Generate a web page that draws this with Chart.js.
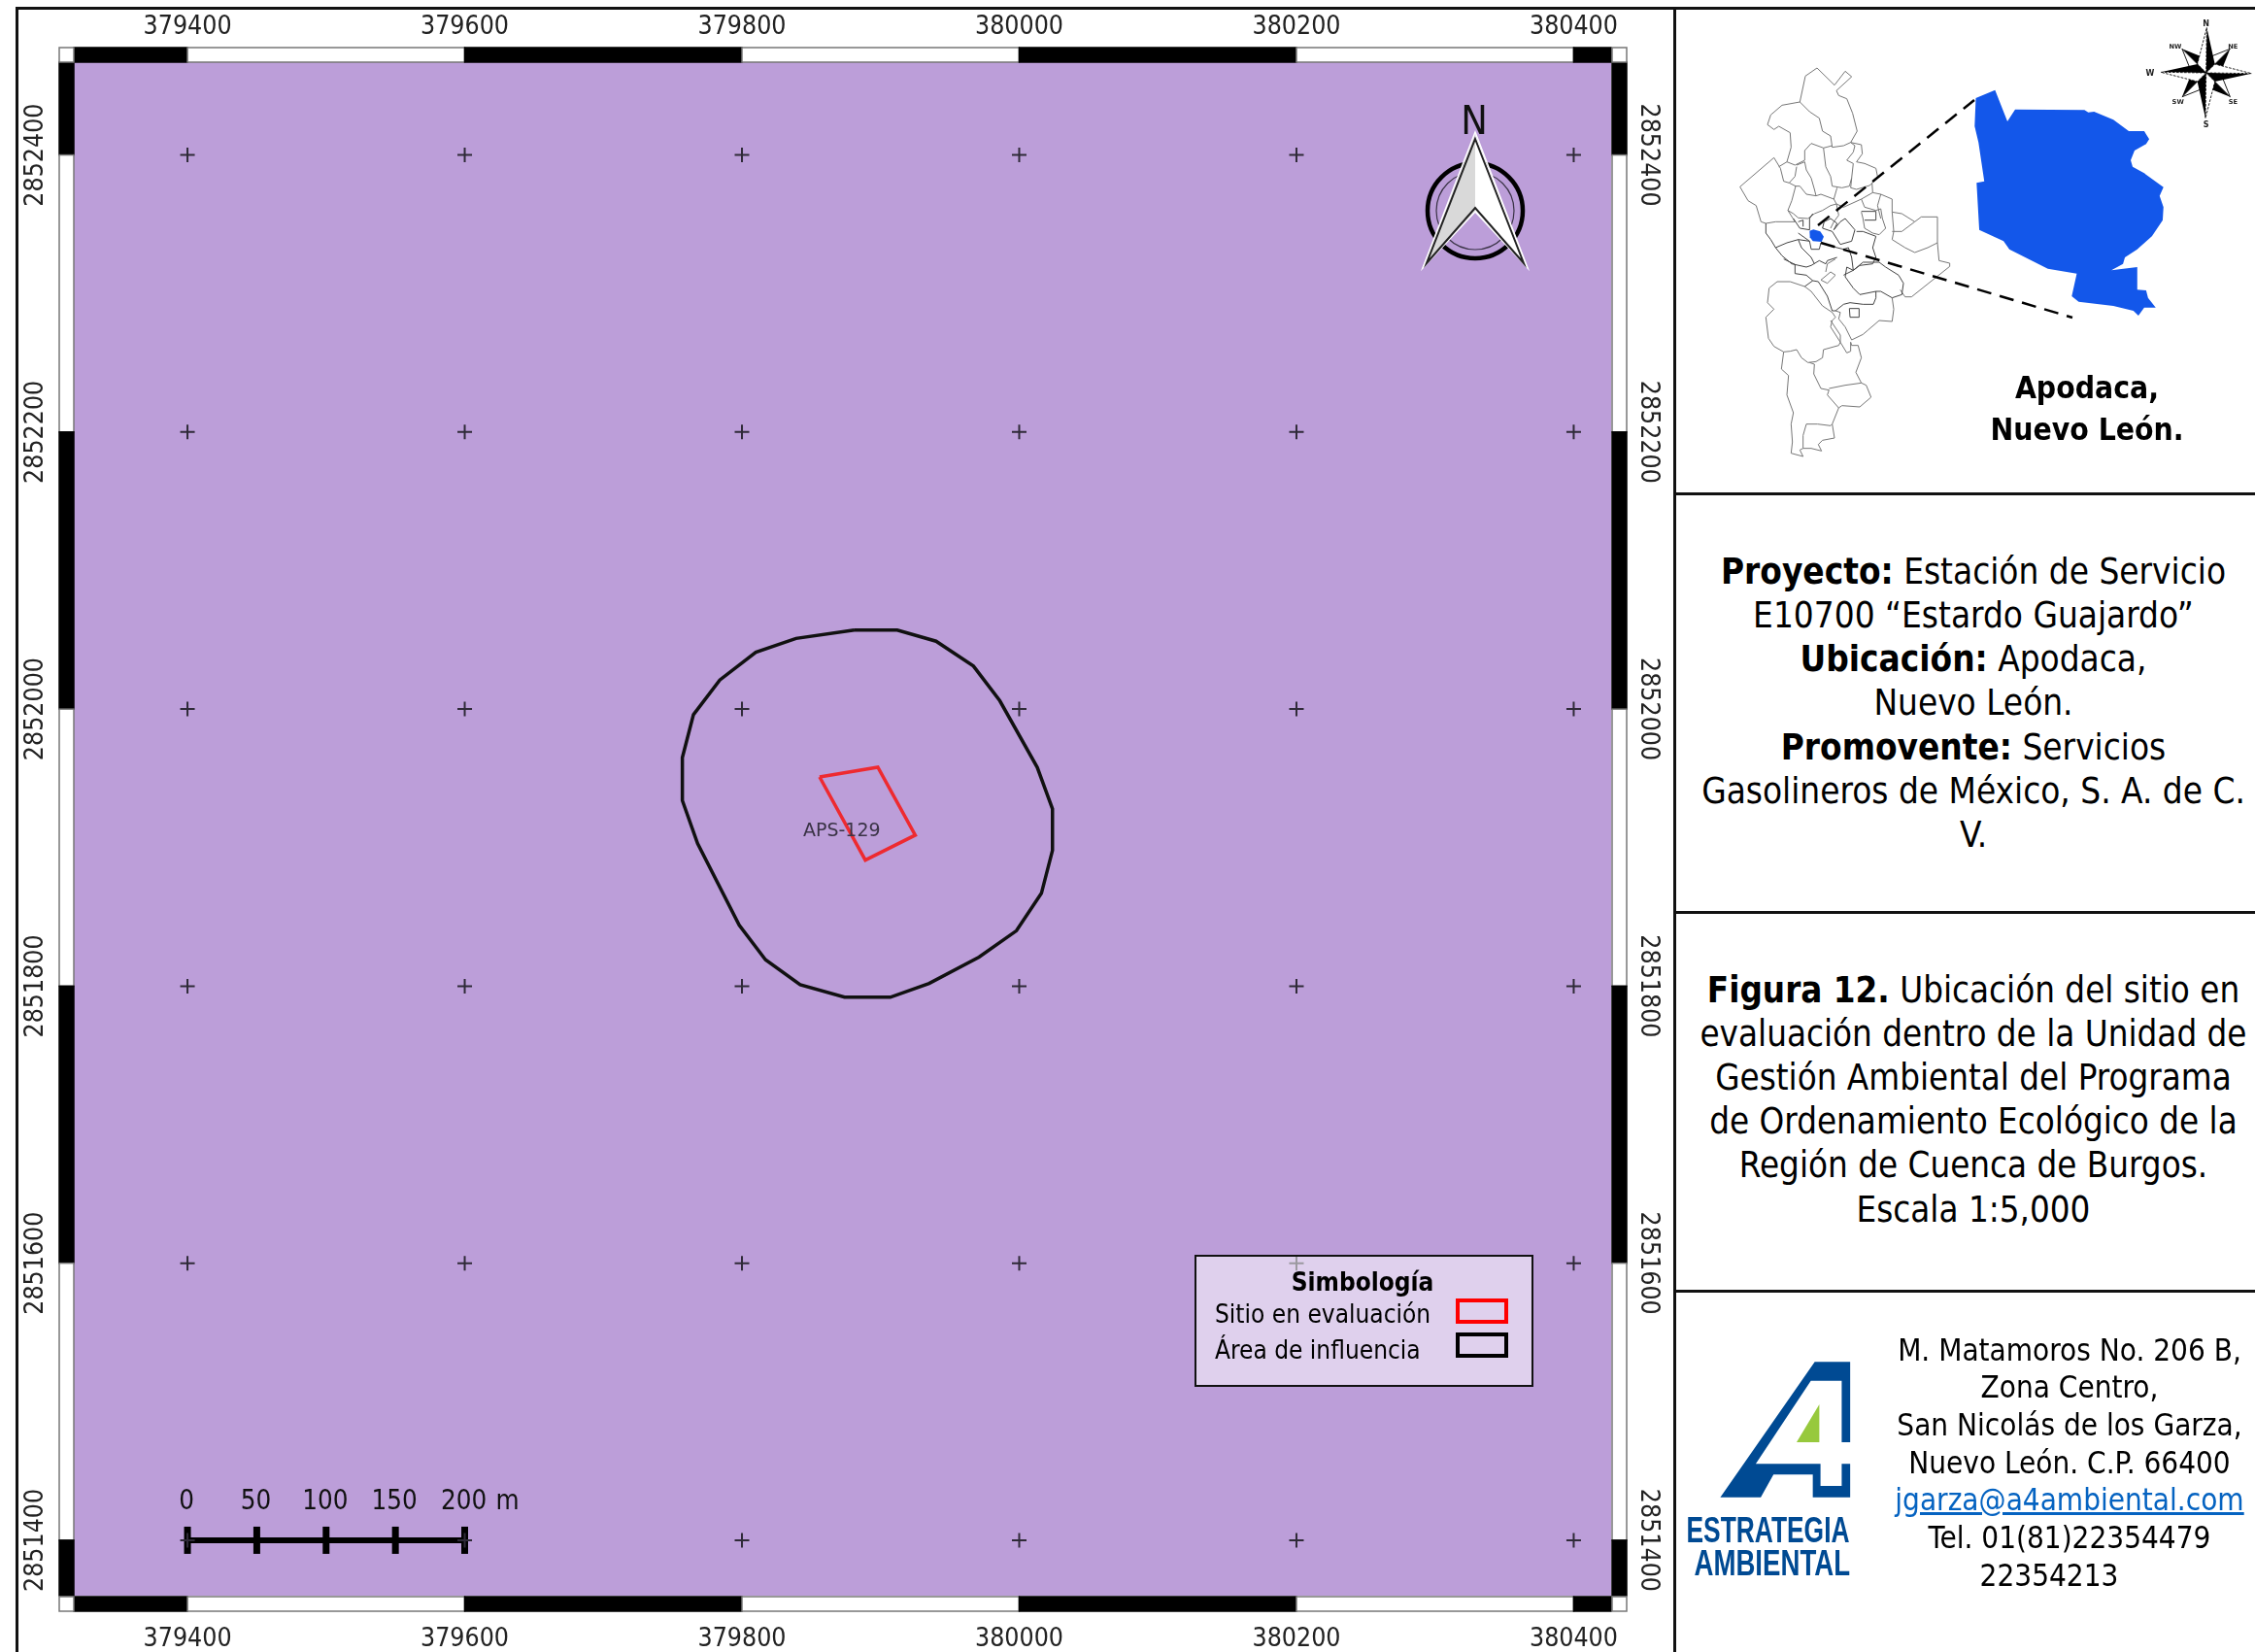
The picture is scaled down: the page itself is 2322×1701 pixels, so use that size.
<!DOCTYPE html>
<html>
<head>
<meta charset="utf-8">
<script src="https://cdn.jsdelivr.net/npm/chart.js@4"></script>
<style>
html,body{margin:0;padding:0;background:#fff;}
body{position:relative;width:2322px;height:1701px;overflow:hidden;font-family:"DejaVu Sans Condensed","DejaVu Sans",sans-serif;color:#000;}
#myChart{position:absolute;left:0;top:0;}
.rule{position:absolute;background:#111;}
.txt{position:absolute;text-align:center;white-space:nowrap;}
svg{position:absolute;overflow:visible;}
a{color:#0563c1;}
</style>
</head>
<body>
<canvas id="myChart" width="1724" height="1701"></canvas>

<div class="rule" style="left:16px;top:7px;width:2306px;height:3px"></div>
<div class="rule" style="left:16px;top:7px;width:3px;height:1694px"></div>
<div class="rule" style="left:1723px;top:7px;width:3px;height:1694px"></div>
<div class="rule" style="left:1723px;top:507px;width:599px;height:3px"></div>
<div class="rule" style="left:1723px;top:938px;width:599px;height:3px"></div>
<div class="rule" style="left:1723px;top:1328px;width:599px;height:3px"></div>

<!-- mapa de Nuevo Leon -->
<svg style="left:1785px;top:65px" width="240" height="420" viewBox="0 0 720 1260" fill="none" stroke="#777" stroke-width="3">
<path d="M205,120 L222,40 L258,15 L312,68 L345,25 L365,42 L318,85 L325,100 L350,110 L368,155 L382,210 L362,245 L340,255 L305,260 L300,225 L275,210 L265,170 L235,150 Z"/>
<path d="M205,120 L150,130 L115,160 L105,190 L125,205 L140,195 L175,215 L178,260 L165,305 L190,315 L220,300 L220,270 L240,248 L278,262 L305,255"/>
<path d="M20,382 L125,292 L145,325 L155,365 L172,370 L192,380 L180,425 L168,455 L190,490 L130,490 L100,495 L85,490 L70,440 L45,425 Z"/>
<path d="M140,320 L165,305 M195,320 L190,350 L172,370"/>
<path d="M195,315 L220,305 L225,330 L240,355 L250,390 L255,410 L225,405 L205,380 L190,380"/>
<path d="M278,262 L285,320 L300,350 L305,380 L335,385 L358,380 L365,355 L370,310 L350,300 L370,275 L375,255 L362,245 L395,252 L398,280 L380,305 L405,310 L440,325 L445,350 L428,370 L430,400 L455,405 L490,420 L490,460 L495,520 L490,545 L530,570 L560,585 L600,570 L630,555"/>
<path d="M365,355 L362,385 L380,390 L420,378 L430,370 M255,410 L270,405 L310,420 L320,385 M310,420 L318,435 L340,445 L395,420 L430,400"/>
<path d="M168,455 L185,465 L200,478 L230,480 L250,465 L275,455 L300,440 L318,435 L325,470 L310,490 L300,510"/>
<path d="M395,420 L405,445 L440,455 L455,450 L460,480 L470,510 L450,530 L430,525 L405,510 L400,480 L395,460 M455,405 L445,440 L455,480"/>
<path d="M395,458 L440,458 L440,485 L405,485" stroke="#444"/>
<path d="M490,460 L520,465 L560,490 L580,475 L630,475 L630,555 L635,610 L668,618 L668,628 L550,722 L530,722 L515,700 M490,520 L520,520 L560,490"/>
<path d="M185,480 L205,510 L235,515 L235,480 L245,465 M200,490 L215,485 L215,505" stroke="#444"/>
<path d="M275,510 L280,490 L300,480 L320,495 L310,515 L330,490 L345,480 L375,515 L365,550 L330,560 L305,520 L275,510" stroke="#444"/>
<path d="M100,495 L100,525 L115,545 L130,570 L165,555 L200,545 L235,550 M130,570 L150,595 L180,620 L225,630 L240,625 L265,610 L285,620 L290,610 L320,600" stroke="#444"/>
<path d="M200,525 L235,550 L240,575 L265,575 L270,555 L300,565 L340,575 L355,570 L365,600 L370,640 L340,655 M380,520 L400,520 L440,535 L430,570 L440,600 L430,620 L390,625 L370,640 M200,545 L210,570 L240,600 L250,620" stroke="#444"/>
<g transform="translate(0,600)">
<path d="M220,90 L175,75 L135,75 L110,95 L105,140 L125,160 L100,185 L108,250 L125,275 L155,292 L175,290 L195,285 L210,310 L230,325 L255,322 L275,310 L278,285 L325,272 L330,262 L300,215 L305,195 L315,185 L305,170 L275,150 L240,105 Z"/>
<path d="M155,5 L190,22 L190,50 L225,55 L245,72 L220,90 M245,72 L262,75 L290,120 L305,165 L315,165 L340,145 L360,140 L400,145 L432,145 L440,125 L440,105 L455,105 L490,125 L520,115 L525,80 L510,55 L470,30 L450,15 L400,15 L370,40 L350,30 L345,60 L370,95 L390,115 L440,105" stroke="#444"/>
<path d="M270,70 L300,45 L315,55 L290,80 Z M285,45 L290,20 L315,5"/>
<path d="M358,158 L388,158 L388,185 L360,185 Z" stroke="#444"/>
<path d="M490,125 L495,160 L490,198 L450,195 L415,225 L400,238 L365,255 L345,215 L325,190 L330,170 L315,165 M300,195 L330,240 L330,262 L350,295 L362,290 L362,262 L365,272 L385,272 L395,310 L378,355 L395,388"/>
<path d="M155,292 L148,345 L170,365 L165,425 L185,480 L178,515 L182,570 L178,605 L215,615 L205,595 L215,590 L215,550 L225,515 L260,515 L300,520 L305,515 L325,465 L290,425 L295,410 L270,405 L248,360 L250,330 L235,325"/>
<path d="M295,405 L345,395 L395,388 L410,395 L425,432 L390,462 L335,458 L325,465 M305,515 L312,558 L275,565 L262,578 L272,598 L240,590 L215,590"/>
</g>
<path d="M235,518 L247,514 L268,520 L279,536 L272,552 L245,550 L236,538 Z" fill="#1357ea" stroke="none"/>
</svg>

<svg style="left:1700px;top:0" width="622" height="520" viewBox="0 0 622 520">
<line x1="172" y1="232" x2="333" y2="103" stroke="#000" stroke-width="2.5" stroke-dasharray="15 9"/>
<line x1="175" y1="250" x2="434" y2="327" stroke="#000" stroke-width="2.5" stroke-dasharray="15 9"/>
<path transform="scale(.3968,.3333)" fill="#1357ea" d="M843,303 L893,278 L925,375 L945,338 L1125,340 L1135,347 L1150,345 L1200,370 L1240,405 L1280,405 L1293,430 L1285,445 L1255,465 L1245,495 L1250,515 L1280,535 L1330,578 L1320,605 L1330,640 L1328,680 L1300,730 L1262,770 L1230,795 L1225,815 L1195,835 L1262,825 L1262,895 L1285,897 L1290,920 L1310,950 L1280,950 L1265,975 L1252,960 L1200,945 L1110,932 L1092,915 L1105,845 L1030,830 L980,800 L930,770 L915,745 L852,710 L845,565 L865,560 L850,440 L840,390 Z"/>
</svg>

<!-- rosa de los vientos -->
<svg style="left:2200px;top:10px" width="122" height="130" viewBox="0 0 366 390">
<defs>
<g id="armLong"><path d="M0,0 L2,-140 L27,-27 Z" fill="#000"/><path d="M0,0 L2,-140 L-27,-27 Z" fill="#fff" stroke="#000" stroke-width="2.5" stroke-dasharray="8 4"/></g>
<g id="armShort"><path d="M0,0 L0,-105 L30,-35 Z" fill="#000"/><path d="M0,0 L0,-105 L-30,-35 Z" fill="#fff" stroke="#000" stroke-width="2.5"/></g>
</defs>
<g transform="translate(215,195)">
<use href="#armShort" transform="rotate(45)"/><use href="#armShort" transform="rotate(135)"/><use href="#armShort" transform="rotate(225)"/><use href="#armShort" transform="rotate(315)"/>
<use href="#armLong"/><use href="#armLong" transform="rotate(90)"/><use href="#armLong" transform="rotate(180)"/><use href="#armLong" transform="rotate(270)"/>
</g>
<g font-size="24" font-weight="bold" text-anchor="middle" fill="#222" font-family="DejaVu Sans">
<text x="215" y="50">N</text><text x="215" y="364">S</text><text x="42" y="204">W</text>
<text x="120" y="120" font-size="20">NW</text><text x="298" y="120" font-size="20">NE</text>
<text x="128" y="290" font-size="20">SW</text><text x="298" y="290" font-size="20">SE</text>
</g>
</svg>

<div class="txt" style="left:2000px;top:377.5px;width:298px;font-size:31.6px;line-height:43px;font-weight:bold">Apodaca,<br>Nuevo León.</div>

<div class="txt" style="left:1741px;top:565.5px;width:582px;font-size:36.6px;line-height:45.3px"><b>Proyecto:</b> Estación de Servicio<br>E10700 “Estardo Guajardo”<br><b>Ubicación:</b> Apodaca,<br>Nuevo León.<br><b>Promovente:</b> Servicios<br>Gasolineros de México, S. A. de C.<br>V.</div>

<div class="txt" style="left:1741px;top:996.5px;width:582px;font-size:36.4px;line-height:45.2px"><b>Figura 12.</b> Ubicación del sitio en<br>evaluación dentro de la Unidad de<br>Gestión Ambiental del Programa<br>de Ordenamiento Ecológico de la<br>Región de Cuenca de Burgos.<br>Escala 1:5,000</div>

<!-- logo -->
<svg style="left:1700px;top:1320px" width="622" height="381" viewBox="0 0 622 381">
<g transform="scale(.3968,.3333)">
<path fill="#004a93" d="M425,247 L517,247 L517,495 L495,495 L495,305 L415,305 L272,562 L440,562 L440,630 L495,630 L495,562 L517,562 L517,665 L420,665 L420,595 L318,595 L285,665 L180,665 Z"/>
<path fill="#97c93d" d="M437,378 L437,495 L378,495 Z"/>
</g>
<g fill="#004a93" font-family="Liberation Sans, sans-serif" font-weight="bold" font-size="36">
<text x="36.5" y="268" textLength="168" lengthAdjust="spacingAndGlyphs">ESTRATEGIA</text>
<text x="44.5" y="301.5" textLength="160.5" lengthAdjust="spacingAndGlyphs">AMBIENTAL</text>
</g>
</svg>

<div class="txt" style="left:1941px;top:1370.5px;width:380px;font-size:31.2px;line-height:38.7px">M. Matamoros No. 206 B,<br>Zona Centro,<br>San Nicolás de los Garza,<br>Nuevo León. C.P. 66400<br><a href="#">jgarza@a4ambiental.com</a><br>Tel. 01(81)22354479<br><span style="position:relative;left:-21px">22354213</span></div>

<script>
const xTicks = [379400, 379600, 379800, 380000, 380200, 380400];
const yTicks = [2851400, 2851600, 2851800, 2852000, 2852200, 2852400];
const xMin = 379318;
const xMax = 380427;
const yMin = 2851360;
const yMax = 2852467;

const influenciaX = [379881, 379912, 379940, 379967, 379986, 380013, 380024, 380024, 380016, 379998, 379971, 379935, 379907, 379874, 379842, 379817, 379798, 379768, 379757, 379757, 379765, 379784, 379810, 379839, 379881];
const influenciaY = [2852057, 2852057, 2852049, 2852031, 2852006, 2851958, 2851928, 2851898, 2851867, 2851840, 2851821, 2851802, 2851792, 2851792, 2851801, 2851819, 2851844, 2851903, 2851934, 2851965, 2851996, 2852021, 2852041, 2852051, 2852057];
const sitioX = [379856, 379898, 379925, 379889, 379856];
const sitioY = [2851951, 2851958, 2851909, 2851891, 2851951];

const escalaMetros = [0, 50, 100, 150, 200];
const escalaX0 = 379400;
const escalaY = 2851400;

const etiquetaSitio = 'APS-129';
const legendTitle = 'Simbología';
const legendItems = ['Sitio en evaluación', 'Área de influencia'];

const FONT = '"DejaVu Sans Condensed","DejaVu Sans",sans-serif';
const PURPLE = '#bc9ed9';

function zip(xs, ys) {
    return xs.map((x, i) => ({ x: x, y: ys[i] }));
}

const cruces = [];
for (const x of xTicks) {
    for (const y of yTicks) {
        cruces.push({ x: x, y: y });
    }
}

function ringCells(ctx, edges, rect) {
    // alterna negro y blanco entre las marcas del eje
    edges.forEach((e, i) => {
        if (i == edges.length - 1) return;
        const c = rect(e, edges[i + 1]);
        ctx.fillStyle = i % 2 == 0 ? '#000' : '#fff';
        ctx.fillRect(c[0], c[1], c[2], c[3]);
        ctx.strokeStyle = i % 2 == 0 ? '#000' : '#777';
        ctx.lineWidth = 1.5;
        ctx.strokeRect(c[0], c[1], c[2], c[3]);
    });
}

const mapFrame = {
    id: 'mapFrame',
    beforeDatasetsDraw(chart) {
        const ctx = chart.ctx, a = chart.chartArea, sx = chart.scales.x, sy = chart.scales.y;
        const b = 15;
        ctx.save();
        ctx.fillStyle = PURPLE;
        ctx.fillRect(a.left, a.top, a.width, a.height);
        const xe = [a.left].concat(xTicks.map(v => sx.getPixelForValue(v)), [a.right]);
        const ye = [a.top].concat(yTicks.slice().reverse().map(v => sy.getPixelForValue(v)), [a.bottom]);
        ringCells(ctx, xe, (p, q) => [p, a.top - b, q - p, b]);
        ringCells(ctx, xe, (p, q) => [p, a.bottom + 1, q - p, b]);
        ringCells(ctx, ye, (p, q) => [a.left - b, p, b, q - p]);
        ringCells(ctx, ye, (p, q) => [a.right + 1, p, b, q - p]);
        ctx.strokeStyle = '#777';
        ctx.fillStyle = '#fff';
        ctx.lineWidth = 1.5;
        for (const c of [[a.left - b, a.top - b], [a.right + 1, a.top - b], [a.left - b, a.bottom + 1], [a.right + 1, a.bottom + 1]]) {
            ctx.fillRect(c[0], c[1], b, b);
            ctx.strokeRect(c[0], c[1], b, b);
        }
        ctx.restore();
    },
    afterDatasetsDraw(chart) {
        const ctx = chart.ctx, sx = chart.scales.x, sy = chart.scales.y;
        ctx.save();
        // etiqueta del sitio
        ctx.fillStyle = '#3a3346';
        ctx.font = '19px "DejaVu Sans"';
        ctx.textAlign = 'center';
        ctx.textBaseline = 'middle';
        ctx.fillText(etiquetaSitio, sx.getPixelForValue(379872), sy.getPixelForValue(2851912));
        // textos de la barra de escala
        ctx.fillStyle = '#111';
        ctx.font = '27.5px ' + FONT;
        const barY = sy.getPixelForValue(escalaY) - 39;
        escalaMetros.forEach(m => {
            ctx.fillText(String(m), sx.getPixelForValue(escalaX0 + m) - 1, barY);
        });
        ctx.fillText('m', sx.getPixelForValue(escalaX0 + 200) + 44, barY);
        drawNorth(ctx);
        drawLegend(ctx);
        ctx.restore();
    }
};

function drawNorth(ctx) {
    const cx = 1519, cy = 217;
    ctx.strokeStyle = '#000';
    ctx.lineWidth = 4.5;
    ctx.beginPath(); ctx.arc(cx, cy, 49, 0, Math.PI * 2); ctx.stroke();
    ctx.lineWidth = 1.2;
    ctx.strokeStyle = '#3a3346';
    ctx.beginPath(); ctx.arc(cx, cy, 40, 0, Math.PI * 2); ctx.stroke();
    ctx.fillStyle = '#d9d9d9';
    ctx.beginPath(); ctx.moveTo(cx, 138); ctx.lineTo(1465, 276); ctx.lineTo(cx, 218); ctx.closePath(); ctx.fill();
    ctx.fillStyle = '#fff';
    ctx.beginPath(); ctx.moveTo(cx, 138); ctx.lineTo(1573, 276); ctx.lineTo(cx, 218); ctx.closePath(); ctx.fill();
    ctx.strokeStyle = '#fff';
    ctx.lineWidth = 1.5;
    ctx.beginPath(); ctx.moveTo(cx, 136); ctx.lineTo(1573, 276); ctx.lineTo(cx, 218); ctx.lineTo(1465, 276); ctx.closePath(); ctx.stroke();
    ctx.strokeStyle = '#222';
    ctx.lineWidth = 2;
    ctx.beginPath(); ctx.moveTo(cx, 143); ctx.lineTo(1569, 271); ctx.lineTo(cx, 214); ctx.lineTo(1469, 271); ctx.closePath(); ctx.stroke();
    ctx.fillStyle = '#111';
    ctx.font = '41px ' + FONT;
    ctx.textAlign = 'center';
    ctx.textBaseline = 'alphabetic';
    ctx.fillText('N', 1518, 138);
}

function drawLegend(ctx) {
    ctx.fillStyle = 'rgba(255,255,255,0.52)';
    ctx.fillRect(1231, 1293, 347, 134);
    ctx.strokeStyle = '#111';
    ctx.lineWidth = 2;
    ctx.strokeRect(1231, 1293, 347, 134);
    ctx.fillStyle = '#000';
    ctx.textBaseline = 'middle';
    ctx.textAlign = 'center';
    ctx.font = 'bold 26px ' + FONT;
    ctx.fillText(legendTitle, 1403, 1322.5);
    ctx.textAlign = 'left';
    ctx.font = '26px ' + FONT;
    ctx.fillText(legendItems[0], 1251, 1355.5);
    ctx.fillText(legendItems[1], 1251, 1392.5);
    ctx.lineWidth = 4;
    ctx.strokeStyle = '#ff0000';
    ctx.strokeRect(1501, 1339, 50, 22);
    ctx.strokeStyle = '#000';
    ctx.strokeRect(1501, 1374, 50, 22);
}

function axisTicks(values) {
    return scale => { scale.ticks = values.map(v => ({ value: v })); };
}

const tickFont = { family: FONT, size: 26.5 };
function xScale(position, size, pad) {
    return {
        type: 'linear', position: position, min: xMin, max: xMax,
        grid: { display: false, drawTicks: false }, border: { display: false },
        afterBuildTicks: axisTicks(xTicks),
        afterFit: s => { s.height = size; },
        ticks: { autoSkip: false, maxRotation: 0, font: tickFont, color: '#222', padding: pad, callback: v => String(v) }
    };
}
function yScale(position, size, pad, rot) {
    return {
        type: 'linear', position: position, min: yMin, max: yMax,
        grid: { display: false, drawTicks: false }, border: { display: false },
        afterBuildTicks: axisTicks(yTicks),
        afterFit: s => { s.width = size; },
        ticks: { autoSkip: false, minRotation: rot, maxRotation: 90, crossAlign: 'center', font: tickFont, color: '#222', padding: pad, callback: v => String(v) }
    };
}

var chart = new Chart(document.getElementById('myChart'), {
    type: 'scatter',
    data: {
        datasets: [{
            label: 'Retícula',
            data: cruces,
            pointStyle: 'cross',
            pointRadius: 7.5,
            pointBorderWidth: 2,
            pointBorderColor: '#2f2a38'
        }, {
            label: legendItems[1],
            data: zip(influenciaX, influenciaY),
            showLine: true,
            pointRadius: 0,
            borderColor: '#111',
            borderWidth: 3.5
        }, {
            label: legendItems[0],
            data: zip(sitioX, sitioY),
            showLine: true,
            pointRadius: 0,
            borderColor: '#ee2a30',
            borderWidth: 3.5
        }, {
            label: 'Escala',
            data: escalaMetros.map(m => ({ x: escalaX0 + m, y: escalaY })),
            showLine: true,
            borderColor: '#000',
            borderWidth: 6,
            pointStyle: 'line',
            pointRotation: 90,
            pointRadius: 14,
            pointBorderWidth: 7,
            pointBorderColor: '#000'
        }]
    },
    options: {
        responsive: false,
        animation: false,
        events: [],
        layout: { padding: 0 },
        plugins: { legend: { display: false }, tooltip: { enabled: false } },
        scales: {
            x: xScale('bottom', 58, 29),
            xTop: xScale('top', 64, 20),
            y: yScale('left', 76, -14, 90),
            yRight: yScale('right', 65, -15, -90)
        }
    },
    plugins: [mapFrame]
});
</script>
</body>
</html>
